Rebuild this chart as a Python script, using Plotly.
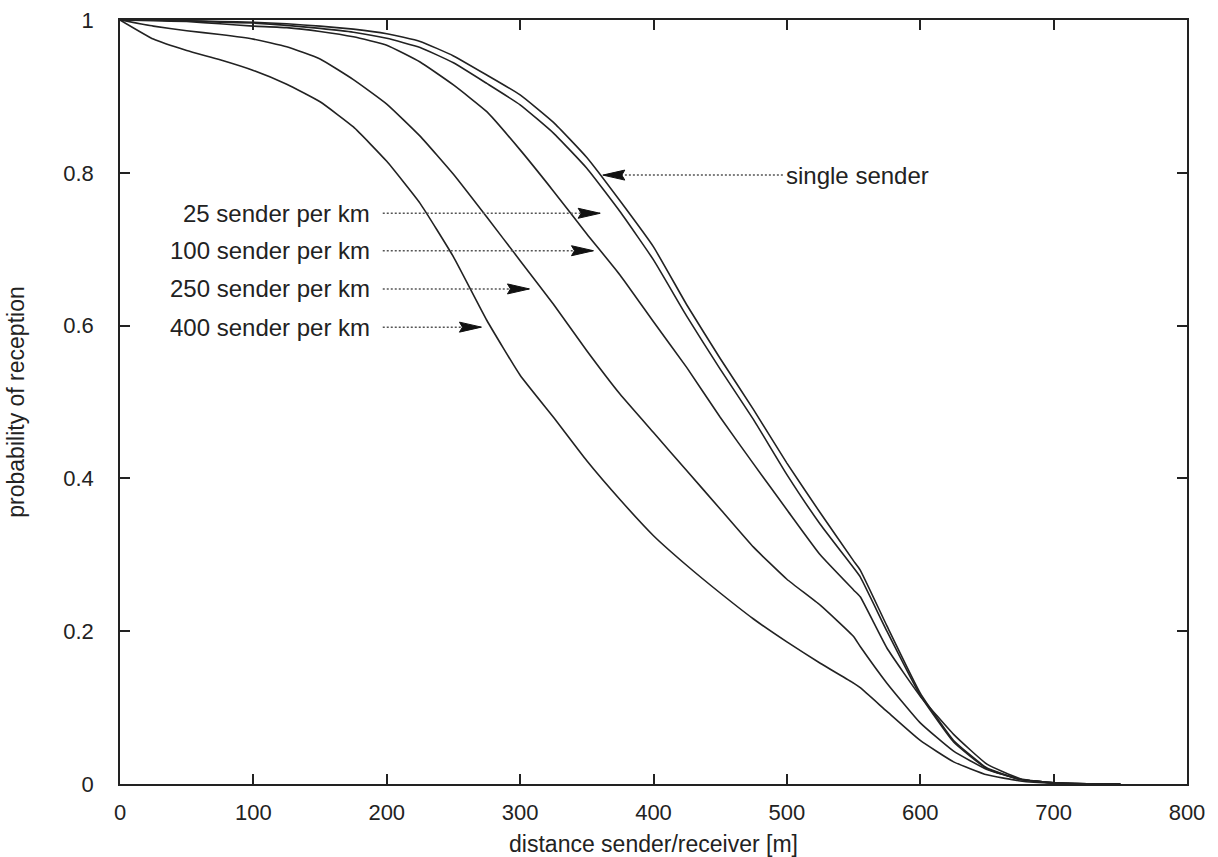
import plotly.graph_objects as go

distance = [0, 25, 50, 75, 100, 125, 150, 175, 200, 225, 250, 275, 300, 325, 350,
            375, 400, 425, 450, 475, 500, 525, 550, 555, 575, 600, 625, 650, 675,
            700, 725, 750]

single_sender = [1.0, 1.0, 0.999, 0.998, 0.997, 0.995, 0.992, 0.988, 0.982, 0.972,
                 0.953, 0.928, 0.902, 0.866, 0.82, 0.763, 0.703, 0.627, 0.557, 0.49,
                 0.42, 0.355, 0.292, 0.28, 0.207, 0.119, 0.057, 0.021, 0.006,
                 0.0015, 0.0003, 0.0]
sender_25 = [1.0, 1.0, 0.999, 0.997, 0.996, 0.993, 0.989, 0.984, 0.976, 0.964,
             0.944, 0.917, 0.889, 0.852, 0.806, 0.749, 0.686, 0.612, 0.543, 0.477,
             0.405, 0.34, 0.283, 0.271, 0.2, 0.116, 0.055, 0.02, 0.006,
             0.0015, 0.0003, 0.0]
sender_100 = [1.0, 0.999, 0.998, 0.995, 0.992, 0.99, 0.985, 0.978, 0.967, 0.945,
              0.915, 0.88, 0.83, 0.776, 0.72, 0.666, 0.605, 0.545, 0.48, 0.419,
              0.359, 0.3, 0.254, 0.245, 0.178, 0.115, 0.065, 0.026, 0.007,
              0.0015, 0.0003, 0.0]
sender_250 = [1.0, 0.992, 0.986, 0.981, 0.975, 0.965, 0.949, 0.922, 0.89, 0.848,
              0.798, 0.742, 0.685, 0.628, 0.567, 0.51, 0.46, 0.41, 0.36, 0.31,
              0.268, 0.234, 0.193, 0.18, 0.132, 0.08, 0.043, 0.019, 0.006,
              0.0015, 0.0003, 0.0]
sender_400 = [1.0, 0.975, 0.96, 0.948, 0.934, 0.916, 0.893, 0.86, 0.815, 0.76,
              0.69, 0.607, 0.535, 0.48, 0.423, 0.372, 0.325, 0.286, 0.25, 0.216,
              0.186, 0.158, 0.132, 0.126, 0.095, 0.057, 0.029, 0.012, 0.004,
              0.001, 0.0002, 0.0]

series = [single_sender, sender_25, sender_100, sender_250, sender_400]

x_ticks = [0, 100, 200, 300, 400, 500, 600, 700, 800]
y_ticks = [0, 0.2, 0.4, 0.6, 0.8, 1]
y_tick_labels = ["0", "0.2", "0.4", "0.6", "0.8", "1"]

label_texts = ["single sender", "25 sender per km", "100 sender per km",
               "250 sender per km", "400 sender per km"]
label_x = [498, 189, 189, 189, 189]
label_y = [0.797, 0.747, 0.698, 0.648, 0.598]
label_anchor = ["left", "right", "right", "right", "right"]
arrow_start_x = [497, 197, 197, 197, 197]
arrow_tip_x = [362, 360, 355, 307, 271]

FONT = "Liberation Sans, Arial, Helvetica, sans-serif"

fig = go.Figure()
for s in series:
    fig.add_trace(go.Scatter(x=distance, y=s, mode="lines",
                             line=dict(color="#222222", width=1.6,
                                       shape="spline", smoothing=0.4),
                             showlegend=False, hoverinfo="skip"))

shapes = []
annotations = []
for txt, lx, ly, anc, sx, tx in zip(label_texts, label_x, label_y, label_anchor,
                                    arrow_start_x, arrow_tip_x):
    annotations.append(dict(x=lx, y=ly, xref="x", yref="y", text=txt,
                            showarrow=False, xanchor=anc, yanchor="middle",
                            font=dict(family=FONT, size=24, color="#222222")))
    d = 1 if tx > sx else -1
    shapes.append(dict(type="line", xref="x", yref="y", x0=sx, x1=tx, y0=ly, y1=ly,
                       line=dict(color="#555555", width=1.5, dash="2px,2px")))
    shapes.append(dict(type="path", xref="x", yref="y", xsizemode="pixel",
                       ysizemode="pixel", xanchor=tx, yanchor=ly,
                       path=f"M0,0 L{-22*d},5 L{-19*d},0 L{-22*d},-5 Z",
                       fillcolor="#111111", line=dict(color="#111111", width=1)))

axis_common = dict(showline=True, linecolor="#222222", linewidth=1.5, mirror="ticks",
                   ticks="inside", ticklen=10, tickwidth=1.5, tickcolor="#222222",
                   showgrid=False, zeroline=False, automargin=False,
                   tickfont=dict(family=FONT, size=22, color="#222222"))

fig.update_layout(
    width=1218, height=857,
    margin=dict(l=120, r=31, t=20, b=73, autoexpand=False),
    paper_bgcolor="white", plot_bgcolor="white",
    hovermode=False,
    shapes=shapes, annotations=annotations,
    xaxis=dict(range=[0, 800], tickvals=x_ticks, ticklabelstandoff=8,
               title=dict(text="distance sender/receiver [m]", standoff=14,
                          font=dict(family=FONT, size=23, color="#222222")),
               **axis_common),
    yaxis=dict(range=[0, 1], tickvals=y_ticks, ticktext=y_tick_labels,
               ticklabelstandoff=20,
               title=dict(text="probability of reception", standoff=32,
                          font=dict(family=FONT, size=23, color="#222222")),
               **axis_common),
)

fig.write_html("out.html", config={"displayModeBar": False},
               post_script="document.body.style.margin='0';document.body.style.overflow='hidden';")
